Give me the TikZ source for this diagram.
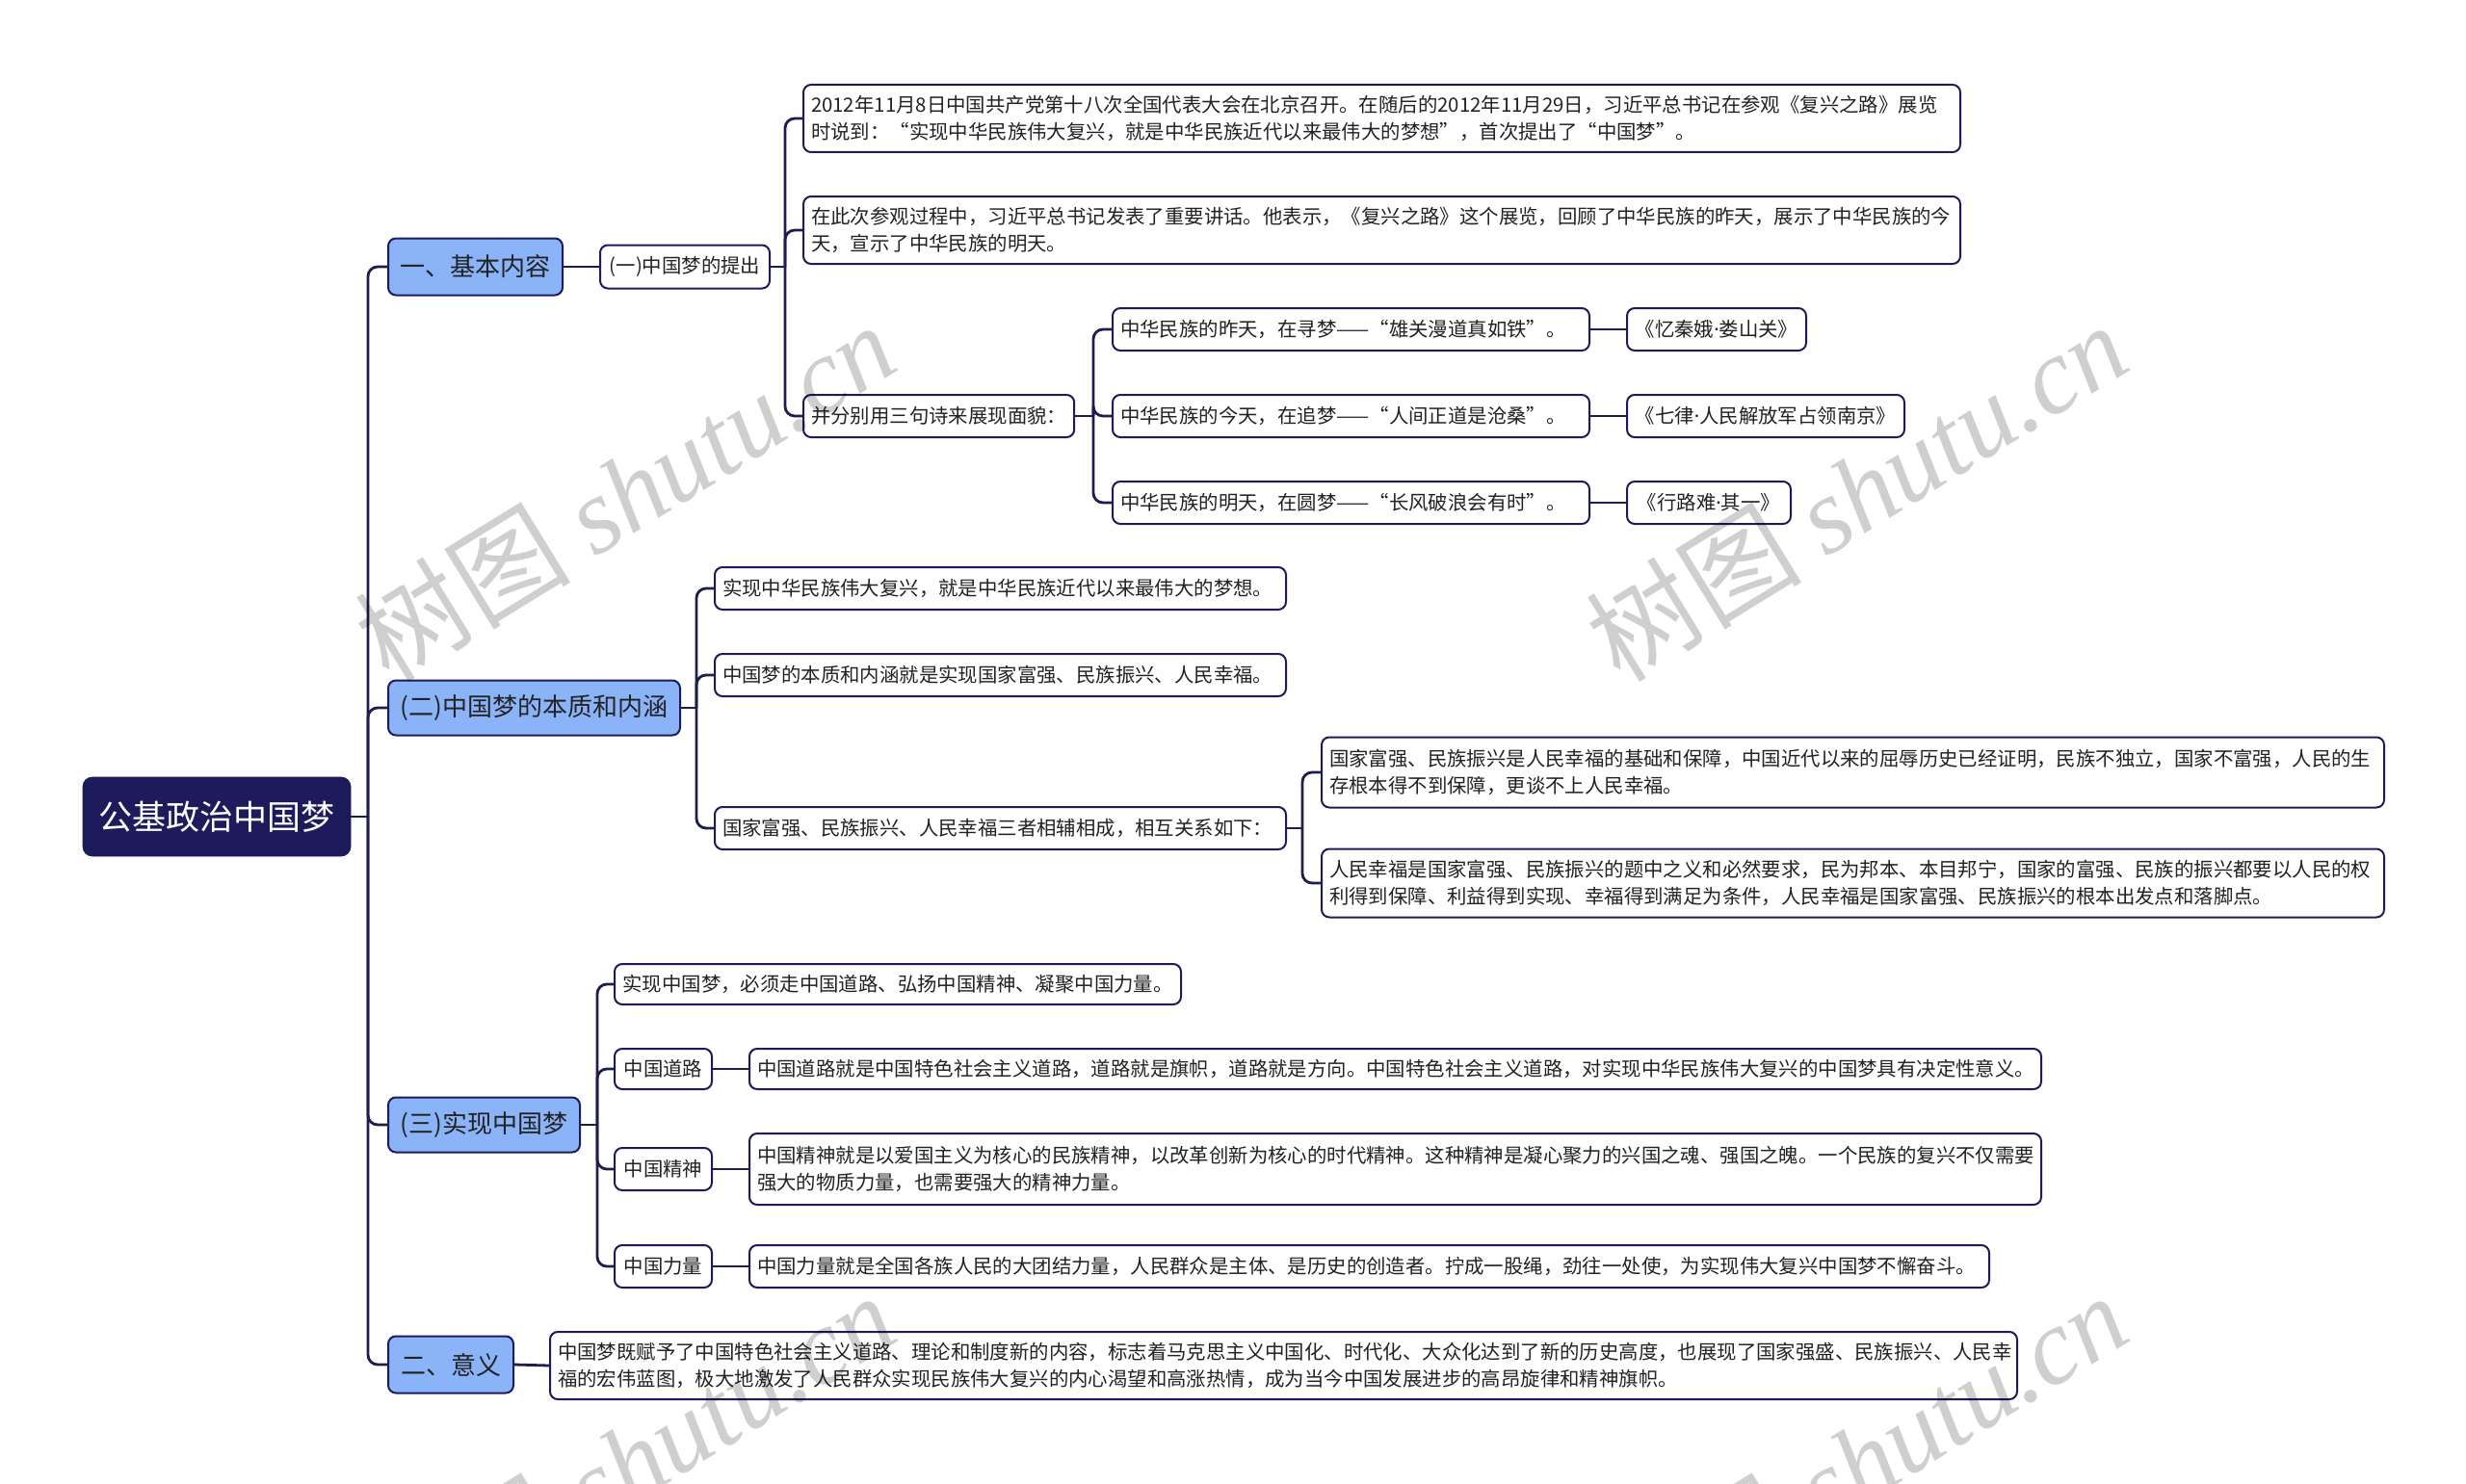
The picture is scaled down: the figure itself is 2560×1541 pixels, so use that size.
\documentclass[tikz,border=0pt]{standalone}
\usepackage{fontspec}
\setmainfont{Noto Sans CJK SC}
\newfontfamily\wmlatin{Liberation Serif}
\newfontfamily\latinsans{Noto Sans}
\newcommand{\mdot}{{\latinsans ·}}
\definecolor{navy}{HTML}{1D1B5C}
\definecolor{conncol}{HTML}{1E1D4F}
\definecolor{lvlone}{HTML}{8BB4F8}
\definecolor{txtc}{HTML}{222222}
\tikzset{
  box/.style={draw=navy, line width=1pt, rounded corners=4pt, fill=white, anchor=west,
    align=left, inner xsep=4pt, inner ysep=2pt, text=txtc,
    font=\fontsize{10.2}{14}\selectfont},
  lone/.style={box, fill=lvlone, align=center, font=\fontsize{13}{16}\selectfont},
  rootbox/.style={fill=navy, draw=navy, rounded corners=5pt, text=white, anchor=center,
    align=center, font=\fontsize{17.5}{20}\selectfont},
  conn/.style={draw=conncol, line width=1.4pt, rounded corners=5pt},
  wm/.style={rotate=31.6, text=black, text opacity=0.19, inner sep=0pt,
    font=\fontsize{56}{60}\selectfont}
}
\begin{document}
\begin{tikzpicture}[x=0.5pt,y=-0.5pt]
\useasboundingbox (0,0) rectangle (2560,1541);
\fill[white] (0,0) rectangle (2560,1541);

% root and level 1
\node[rootbox, minimum width=139pt, minimum height=41pt] (root) at (225,848) {公基政治中国梦};
\node[lone, minimum width=90.5pt, minimum height=29.5pt] (n1) at (402,277) {一、基本内容};
\node[lone, minimum width=151.5pt, minimum height=28.5pt] (n2) at (402,735) {(二)中国梦的本质和内涵};
\node[lone, minimum width=99.5pt, minimum height=28.5pt] (n3) at (402,1168) {(三)实现中国梦};
\node[lone, minimum width=65pt, minimum height=29.5pt] (n4) at (402,1417) {二、意义};

% branch 1
\node[box, align=center, minimum width=88pt, minimum height=22.5pt] (p1) at (622,277) {(一)中国梦的提出};
\node[box, text width=592.5pt, minimum height=35pt] (A) at (833,123) {2012年11月8日中国共产党第十八次全国代表大会在北京召开。在随后的2012年11月29日，习近平总书记在参观《复兴之路》展览\\时说到：“实现中华民族伟大复兴，就是中华民族近代以来最伟大的梦想”，首次提出了“中国梦”。};
\node[box, text width=592.5pt, minimum height=35pt] (B) at (833,239) {在此次参观过程中，习近平总书记发表了重要讲话。他表示，《复兴之路》这个展览，回顾了中华民族的昨天，展示了中华民族的今\\天，宣示了中华民族的明天。};
\node[box, minimum width=138.5pt, minimum height=22pt] (C) at (833,432) {并分别用三句诗来展现面貌：};
\node[box, text width=239.5pt, minimum height=22pt] (C1) at (1154,342) {中华民族的昨天，在寻梦——“雄关漫道真如铁”。};
\node[box, text width=239.5pt, minimum height=22pt] (C2) at (1154,432) {中华民族的今天，在追梦——“人间正道是沧桑”。};
\node[box, text width=239.5pt, minimum height=22pt] (C3) at (1154,522) {中华民族的明天，在圆梦——“长风破浪会有时”。};
\node[box, minimum width=93pt, minimum height=22pt] (D1) at (1688,342) {《忆秦娥\mdot 娄山关》};
\node[box, minimum width=144pt, minimum height=22pt] (D2) at (1688,432) {《七律\mdot 人民解放军占领南京》};
\node[box, minimum width=85pt, minimum height=22pt] (D3) at (1688,522) {《行路难\mdot 其一》};

% branch 2
\node[box, text width=288.5pt, minimum height=22pt] (E1) at (741,611) {实现中华民族伟大复兴，就是中华民族近代以来最伟大的梦想。};
\node[box, text width=288.5pt, minimum height=22pt] (E2) at (741,701) {中国梦的本质和内涵就是实现国家富强、民族振兴、人民幸福。};
\node[box, text width=288.5pt, minimum height=22pt] (E3) at (741,860) {国家富强、民族振兴、人民幸福三者相辅相成，相互关系如下：};
\node[box, text width=543.5pt, minimum height=36.5pt] (F1) at (1371,802) {国家富强、民族振兴是人民幸福的基础和保障，中国近代以来的屈辱历史已经证明，民族不独立，国家不富强，人民的生\\存根本得不到保障，更谈不上人民幸福。};
\node[box, text width=543.5pt, minimum height=35.5pt] (F2) at (1371,917) {人民幸福是国家富强、民族振兴的题中之义和必然要求，民为邦本、本目邦宁，国家的富强、民族的振兴都要以人民的权\\利得到保障、利益得到实现、幸福得到满足为条件，人民幸福是国家富强、民族振兴的根本出发点和落脚点。};

% branch 3
\node[box, minimum width=294pt, minimum height=21pt] (G0) at (637,1022) {实现中国梦，必须走中国道路、弘扬中国精神、凝聚中国力量。};
\node[box, align=center, minimum width=50.5pt, minimum height=21pt] (G1) at (637,1110) {中国道路};
\node[box, align=center, minimum width=50.5pt, minimum height=22pt] (G2) at (637,1214) {中国精神};
\node[box, align=center, minimum width=50.5pt, minimum height=22pt] (G3) at (637,1315) {中国力量};
\node[box, text width=662.5pt, minimum height=21pt] (H1) at (777,1110) {中国道路就是中国特色社会主义道路，道路就是旗帜，道路就是方向。中国特色社会主义道路，对实现中华民族伟大复兴的中国梦具有决定性意义。};
\node[box, text width=662.5pt, minimum height=37pt] (H2) at (777,1214) {中国精神就是以爱国主义为核心的民族精神，以改革创新为核心的时代精神。这种精神是凝心聚力的兴国之魂、强国之魄。一个民族的复兴不仅需要\\强大的物质力量，也需要强大的精神力量。};
\node[box, text width=635.5pt, minimum height=22pt] (H3) at (777,1315) {中国力量就是全国各族人民的大团结力量，人民群众是主体、是历史的创造者。拧成一股绳，劲往一处使，为实现伟大复兴中国梦不懈奋斗。};

% branch 4
\node[box, text width=753.5pt, minimum height=35pt] (I1) at (570,1418) {中国梦既赋予了中国特色社会主义道路、理论和制度新的内容，标志着马克思主义中国化、时代化、大众化达到了新的历史高度，也展现了国家强盛、民族振兴、人民幸\\福的宏伟蓝图，极大地激发了人民群众实现民族伟大复兴的内心渴望和高涨热情，成为当今中国发展进步的高昂旋律和精神旗帜。};

% junctions
\coordinate (j0) at (382,848);
\coordinate (j1) at (815,277);
\coordinate (j2) at (1135,432);
\coordinate (j3) at (723,735);
\coordinate (j4) at (1352,860);
\coordinate (j5) at (620,1168);

% connectors
\draw[conn] (root.east) -- (j0);
\foreach \n in {n1,n2,n3,n4} \draw[conn] (j0) |- (\n.west);
\draw[conn] (n1.east) -- (p1.west);
\draw[conn] (p1.east) -- (j1);
\foreach \n in {A,B,C} \draw[conn] (j1) |- (\n.west);
\draw[conn] (C.east) -- (j2);
\foreach \n in {C1,C2,C3} \draw[conn] (j2) |- (\n.west);
\draw[conn] (C1.east) -- (D1.west);
\draw[conn] (C2.east) -- (D2.west);
\draw[conn] (C3.east) -- (D3.west);
\draw[conn] (n2.east) -- (j3);
\foreach \n in {E1,E2,E3} \draw[conn] (j3) |- (\n.west);
\draw[conn] (E3.east) -- (j4);
\foreach \n in {F1,F2} \draw[conn] (j4) |- (\n.west);
\draw[conn] (n3.east) -- (j5);
\foreach \n in {G0,G1,G2,G3} \draw[conn] (j5) |- (\n.west);
\draw[conn] (G1.east) -- (H1.west);
\draw[conn] (G2.east) -- (H2.west);
\draw[conn] (G3.east) -- (H3.west);
\draw[conn] (n4.east) -- (I1.west);

% watermarks
\node[wm] (w1) at (649,510) {树图 {\wmlatin\itshape shutu.cn}};
\node[wm] (w2) at (1927,510) {树图 {\wmlatin\itshape shutu.cn}};
\node[wm] (w3) at (649,1518) {树图 {\wmlatin\itshape shutu.cn}};
\node[wm] (w4) at (1927,1518) {树图 {\wmlatin\itshape shutu.cn}};
\end{tikzpicture}
\end{document}
